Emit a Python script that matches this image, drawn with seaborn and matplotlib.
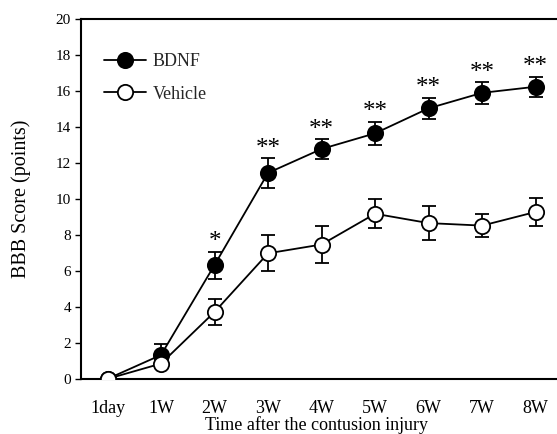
import matplotlib
matplotlib.use('Agg')
import matplotlib.pyplot as plt
import seaborn as sns
import pandas as pd

times = ['1day', '1W', '2W', '3W', '4W', '5W', '6W', '7W', '8W']
bdnf_mean = [0.0, 1.33, 6.33, 11.45, 12.78, 13.65, 15.04, 15.9, 16.24]
bdnf_sem = [0.0, 0.6, 0.75, 0.83, 0.55, 0.65, 0.6, 0.6, 0.56]
vehicle_mean = [0.0, 0.85, 3.72, 6.98, 7.47, 9.18, 8.66, 8.52, 9.28]
vehicle_sem = [0.0, 0.2, 0.7, 1.0, 1.05, 0.8, 0.95, 0.65, 0.8]
signif = ['', '', '*', '**', '**', '**', '**', '**', '**']

sns.set_theme(style='ticks')
plt.rcParams['font.family'] = ['Liberation Serif', 'DejaVu Serif']

df = pd.DataFrame({
    'time': times * 2,
    'score': bdnf_mean + vehicle_mean,
    'group': ['BDNF'] * len(times) + ['Vehicle'] * len(times),
})

fig = plt.figure(figsize=(5.57, 4.34), dpi=100)
ax = fig.add_axes([0.145, 0.127, 0.855, 0.829])

# lines + markers
sns.lineplot(data=df[df.group == 'BDNF'], x='time', y='score', sort=False,
             color='black', lw=1.3, marker='o', markersize=11,
             markerfacecolor='black', markeredgecolor='black', markeredgewidth=1.3,
             label='BDNF', ax=ax, zorder=3)
sns.lineplot(data=df[df.group == 'Vehicle'], x='time', y='score', sort=False,
             color='black', lw=1.3, marker='o', markersize=11,
             markerfacecolor='white', markeredgecolor='black', markeredgewidth=1.3,
             label='Vehicle', ax=ax, zorder=3)

# error bars (SEM)
ax.errorbar(times, bdnf_mean, yerr=bdnf_sem, fmt='none', ecolor='black',
            elinewidth=1.3, capsize=5, capthick=1.3, zorder=2)
ax.errorbar(times, vehicle_mean, yerr=vehicle_sem, fmt='none', ecolor='black',
            elinewidth=1.3, capsize=5, capthick=1.3, zorder=2)

# significance marks
for t, m, s, lab in zip(times, bdnf_mean, bdnf_sem, signif):
    if lab:
        ax.text(t, m + s - 0.1, lab, ha='center', va='bottom', fontsize=18,
                color='black')

ax.set_xlim(-0.5, 8.4)
ax.set_ylim(0, 20)
ax.set_yticks(range(0, 21, 2))
ax.tick_params(axis='y', direction='out', length=4, width=1, labelsize=11,
               colors='black', pad=3)
ax.tick_params(axis='x', length=0, labelsize=13, pad=15, colors='black')
for side in ['left', 'top', 'bottom']:
    ax.spines[side].set_linewidth(1.5)
    ax.spines[side].set_color('black')
ax.spines['right'].set_visible(False)

ax.set_xlabel('Time after the contusion injury', fontsize=13, color='black')
ax.xaxis.set_label_coords(0.496, -0.104)
ax.set_ylabel('BBB Score (points)', fontsize=14.5, color='black')
ax.yaxis.set_label_coords(-0.105, 0.5)

ax.legend(loc='upper left', bbox_to_anchor=(0.015, 0.95), frameon=False,
          fontsize=13, handlelength=2.3, handletextpad=0.4, labelspacing=0.85)

fig.savefig('out.png', dpi=100)
